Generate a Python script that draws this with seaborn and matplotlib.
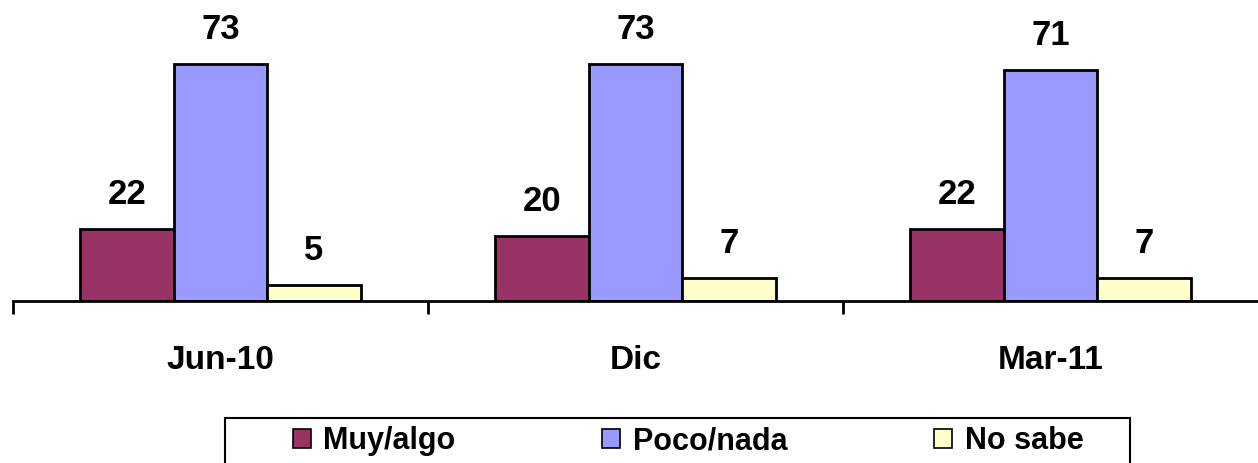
import seaborn as sns
import pandas as pd
import matplotlib.pyplot as plt
from matplotlib.ticker import FixedLocator
from matplotlib.patches import Rectangle

periods = ["Jun-10", "Dic", "Mar-11"]
series = ["Muy/algo", "Poco/nada", "No sabe"]
muy_algo = [22, 20, 22]
poco_nada = [73, 73, 71]
no_sabe = [5, 7, 7]
colors = ["#993366", "#9999FF", "#FFFFCC"]

rows = []
for name, vals in zip(series, [muy_algo, poco_nada, no_sabe]):
    for p, v in zip(periods, vals):
        rows.append({"periodo": p, "serie": name, "valor": v})
df = pd.DataFrame(rows)

sns.set_style("white")
plt.rcParams['font.family'] = ['Liberation Sans', 'DejaVu Sans']
plt.rcParams['text.color'] = 'black'
plt.rcParams['xtick.color'] = 'black'

fig = plt.figure(figsize=(12.58, 4.63), dpi=100)
ax = fig.add_axes([13 / 1258, 162 / 463, 1 - 13 / 1258, 301 / 463])

sns.barplot(data=df, x="periodo", y="valor", hue="serie", order=periods,
            hue_order=series, palette=colors, saturation=1, width=0.675,
            edgecolor="black", linewidth=2, ax=ax, legend=True)

for cont in ax.containers:
    ax.bar_label(cont, padding=13, fontsize=25, fontweight="bold", color="black")

ax.set_ylim(0, 92.6)
ax.set_xlim(-0.5, 2.5)
ax.set_xlabel("")
ax.set_ylabel("")
ax.set_yticks([])
for s in ["left", "right", "top"]:
    ax.spines[s].set_visible(False)
ax.spines["bottom"].set_linewidth(2)
ax.spines["bottom"].set_color("black")

ax.xaxis.set_minor_locator(FixedLocator([-0.5, 0.5, 1.5]))
ax.tick_params(axis="x", which="minor", length=9, width=2, color="black",
               direction="out", bottom=True)
ax.tick_params(axis="x", which="major", length=0, pad=32)
for lab in ax.get_xticklabels():
    lab.set_fontsize(24)
    lab.set_fontweight("bold")
    lab.set_color("black")

handles, labels = ax.get_legend_handles_labels()
ax.get_legend().remove()
leg = fig.legend(handles, labels, loc="center", ncol=3,
                 bbox_to_anchor=(688 / 1258, 22 / 463),
                 frameon=False, borderaxespad=0, columnspacing=4.8,
                 handlelength=0.6, handleheight=0.6, handletextpad=0.4,
                 prop={"size": 22, "weight": "bold"})
for h in leg.legend_handles:
    h.set_linewidth(1.2)

fig.add_artist(Rectangle((225 / 1258, -0.05), 905 / 1258, 0.05 + 45 / 463,
                         transform=fig.transFigure, fill=False,
                         edgecolor="black", linewidth=1.5))

fig.savefig("out.png", dpi=100)
